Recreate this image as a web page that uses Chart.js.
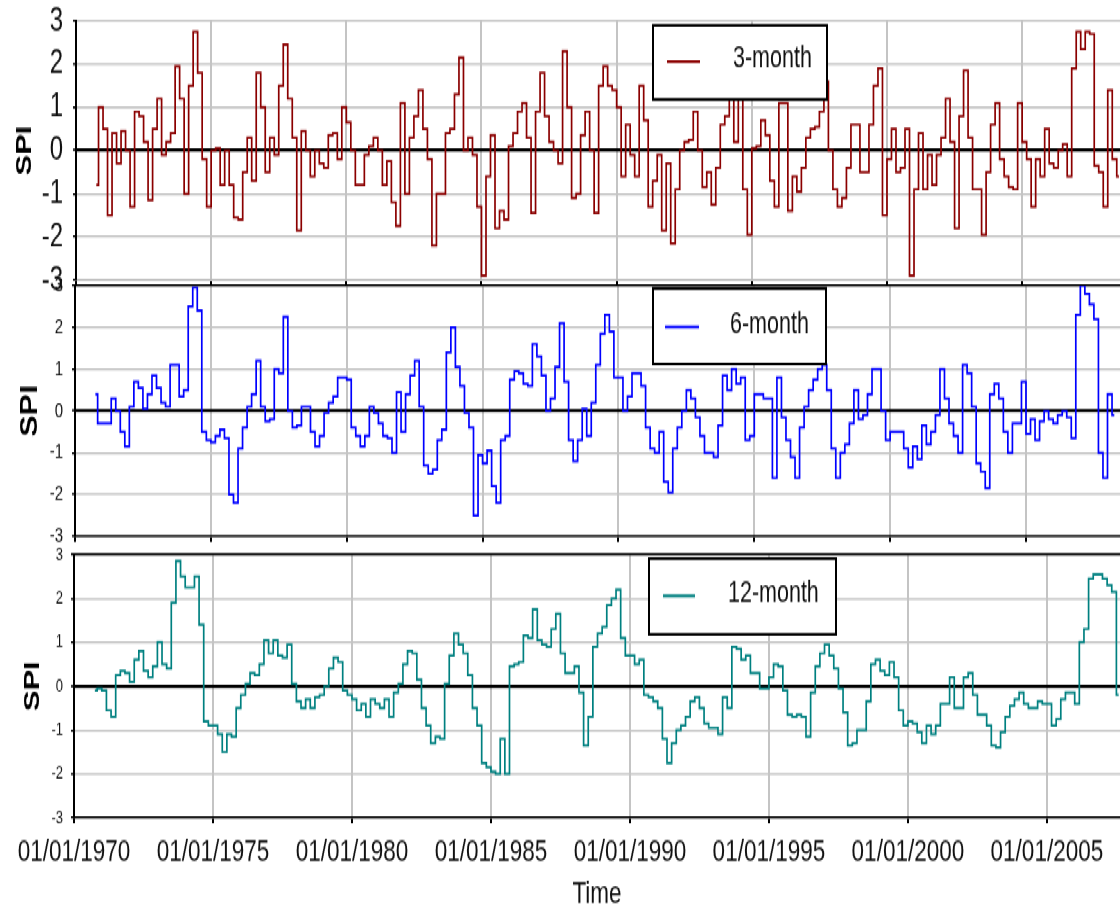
<!DOCTYPE html>
<html>
<head>
<meta charset="utf-8">
<title>SPI 3, 6 and 12 month</title>
<script src="https://cdn.jsdelivr.net/npm/chart.js@4.4.1/dist/chart.umd.min.js"></script>
<style>
  html, body { margin: 0; padding: 0; background: #fff; overflow: hidden; }
  /* the three panels are laid out on a 1120x652 stage that is stretched to 913px tall */
  #stage { position: absolute; left: 0; top: 0; width: 1120px; height: 652px;
           transform: scaleY(1.40031); transform-origin: 0 0; }
  #stage canvas { position: absolute; left: 0; }
</style>
</head>
<body>
<div id="stage">
  <canvas id="c3m" width="1120" height="210" style="top:0px"></canvas>
  <canvas id="c6m" width="1120" height="195" style="top:194px"></canvas>
  <canvas id="c12m" width="1120" height="267" style="top:385px"></canvas>
</div>
<script>
// Bimonthly SPI values, first value October 1970
const START_YEAR = 1970 + 9 / 12;
const STEP_YEARS = 2 / 12;

const spi3 = [
  -0.8, 1.0, 0.5, -1.5, 0.4, -0.3, 0.45, 0.0, -1.3, 0.9,
  0.8, 0.2, -1.15, 0.5, 1.2, -0.1, 0.2, 0.4, 1.95, 1.2,
  -1.0, 1.5, 2.75, 1.8, -0.2, -1.3, 0.0, 0.05, -0.8, 0.0,
  -0.8, -1.55, -1.6, -0.5, 0.3, -0.7, 1.8, 1.0, -0.5, 0.3,
  -0.1, 1.5, 2.45, 1.2, 0.3, -1.85, 0.45, 0.0, -0.6, 0.0,
  -0.3, -0.4, 0.35, 0.4, -0.2, 1.0, 0.65, 0.0, -0.8, -0.8,
  -0.1, 0.1, 0.3, 0.0, -0.8, -0.25, -1.2, -1.75, 1.1, -1.0,
  0.3, 0.8, 1.4, 0.5, -0.2, -2.2, -1.0, -1.0, 0.4, 0.5,
  1.3, 2.15, 0.0, 0.3, -0.1, -1.3, -2.9, -0.6, 0.35, -1.8,
  -1.4, -1.6, 0.1, 0.4, 0.9, 1.1, 0.3, -1.45, 0.9, 1.8,
  0.8, 0.2, 0.0, -0.3, 2.3, 1.0, -1.1, -1.0, 0.35, 0.9,
  0.0, -1.45, 1.5, 1.95, 1.5, 1.4, 1.0, -0.6, 0.6, -0.1,
  -0.6, 1.5, 0.7, -1.3, -0.7, -0.1, -1.85, -0.3, -2.15, -0.9,
  0.0, 0.2, 0.25, 0.9, 0.0, -0.85, -0.5, -1.25, -0.4, 0.6,
  0.8, 1.3, 0.2, 1.3, -0.9, -1.95, 0.05, 0.1, 0.7, 0.35,
  -0.7, -1.3, 1.1, 1.1, -1.4, -0.6, -0.95, -0.4, 0.3, 0.5,
  0.55, 0.9, 1.6, 0.0, -0.9, -1.3, -1.1, -0.4, 0.6, 0.6,
  -0.5, -0.5, 0.6, 1.5, 1.9, -1.5, -0.2, 0.5, -0.5, -0.4,
  0.5, -2.9, -0.9, 0.4, -0.9, -0.1, -0.8, -0.1, 0.3, 1.2,
  0.2, -1.8, 0.8, 1.85, 0.3, -0.9, -0.9, -1.95, -0.5, 0.6,
  1.1, -0.2, -0.6, -0.85, -0.9, 1.1, 0.2, -0.2, -1.3, -0.2,
  -0.6, 0.5, -0.3, -0.4, 0.0, 0.15, -0.6, 1.9, 2.75, 2.35,
  2.75, 2.7, -0.35, -0.5, -1.3, 1.4, -0.2, -0.6
];

const spi6 = [
  0.4, -0.3, -0.3, -0.3, 0.3, 0.0, -0.5, -0.85, 0.1, 0.7,
  0.55, 0.05, 0.4, 0.85, 0.55, 0.2, 0.1, 1.1, 1.1, 0.35,
  0.5, 2.5, 2.95, 2.4, -0.5, -0.7, -0.75, -0.6, -0.45, -0.65,
  -2.0, -2.2, -0.9, -0.4, 0.1, 0.4, 1.2, 0.1, -0.25, -0.2,
  1.0, 0.9, 2.25, 0.0, -0.4, -0.35, 0.1, 0.1, -0.5, -0.85,
  -0.6, -0.05, 0.2, 0.35, 0.8, 0.8, 0.75, -0.4, -0.6, -0.85,
  -0.6, 0.1, -0.05, -0.3, -0.6, -0.65, -1.0, 0.45, -0.5, 0.4,
  0.85, 1.2, 0.1, -1.3, -1.5, -1.4, -0.7, -0.45, 1.4,
  2.0, 1.05, 0.6, -0.05, -0.4, -2.5, -1.05, -1.25, -0.95, -1.8,
  -2.2, -0.7, -0.6, 0.75, 0.95, 0.9, 0.65, 0.6, 1.6, 1.3,
  0.85, 0.0, 0.3, 1.05, 2.1, 0.7, -0.7, -1.2, -0.7, 0.05,
  -0.6, 0.2, 1.1, 1.85, 2.3, 1.9, 0.8, 0.8, 0.0, 0.35,
  0.9, 0.9, 0.6, -0.4, -0.9, -1.0, -0.5, -1.7, -1.95, -0.9,
  -0.4, 0.0, 0.5, 0.3, -0.15, -0.6, -1.0, -1.0, -1.1, -0.35,
  0.85, 0.5, 1.0, 0.65, 0.8, -0.7, -0.6, 0.4, 0.4, 0.3,
  0.3, -1.6, 0.8, -0.15, -0.7, -1.1, -1.6, -0.4, 0.1, 0.5,
  0.75, 1.0, 1.1, 0.5, -0.9, -1.6, -1.0, -0.8, -0.3, 0.5,
  -0.2, -0.1, 0.4, 1.0, 1.0, 0.0, -0.7, -0.5, -0.5, -0.5,
  -0.9, -1.35, -0.85, -1.15, -0.35, -0.8, -0.5, -0.1, 1.0, 0.3,
  -0.3, -0.6, -1.0, 1.1, 0.9, 0.1, -1.25, -1.45, -1.85, 0.4,
  0.65, 0.3, -0.5, -1.0, -0.3, -0.3, 0.7, -0.55, -0.2, -0.7,
  -0.25, 0.0, -0.2, -0.3, -0.1, 0.0, -0.15, -0.65, 2.3, 3.0,
  2.8, 2.55, 2.2, -1.0, -1.6, 0.4, -0.1
];

const spi12 = [
  -0.1, -0.05, -0.1, -0.55, -0.7, 0.25, 0.35, 0.3, 0.1, 0.6,
  0.8, 0.35, 0.2, 0.45, 1.0, 0.5, 0.4, 1.9, 2.85, 2.5,
  2.25, 2.25, 2.5, 1.4, -0.8, -0.9, -0.9, -1.1, -1.5, -1.1,
  -1.15, -0.5, -0.2, 0.05, 0.3, 0.25, 0.5, 1.05, 0.75, 1.05,
  0.7, 0.65, 0.95, 0.05, -0.35, -0.5, -0.3, -0.5, -0.25, -0.2,
  0.0, 0.4, 0.65, 0.55, -0.1, -0.2, -0.3, -0.55, -0.4, -0.7,
  -0.3, -0.4, -0.5, -0.3, -0.7, -0.15, 0.05, 0.5, 0.8, 0.75,
  0.15, -0.5, -0.9, -1.3, -1.15, -1.2, 0.05, 0.7, 1.2, 0.95,
  0.75, 0.25, -0.5, -0.9, -1.75, -1.85, -1.95, -2.0, -1.2, -2.0,
  0.45, 0.5, 0.55, 1.15, 1.1, 1.75, 1.05, 0.95, 0.9, 1.3,
  1.65, 0.75, 0.3, 0.3, 0.45, -0.15, -1.35, -0.7, 0.9, 1.2,
  1.35, 1.85, 2.0, 2.2, 1.1, 0.7, 0.7, 0.5, 0.6, -0.2,
  -0.25, -0.35, -0.5, -1.2, -1.75, -1.3, -1.0, -0.9, -0.7, -0.35,
  -0.25, -0.5, -0.85, -0.95, -0.95, -1.1, -0.25, -0.5, 0.9, 0.85,
  0.6, 0.7, 0.3, 0.3, -0.05, -0.05, 0.2, 0.5, 0.45, -0.1,
  -0.65, -0.7, -0.65, -0.7, -1.15, -0.15, 0.45, 0.75, 0.95, 0.7,
  0.4, -0.05, -0.6, -1.35, -1.3, -1.0, -1.0, -0.35, 0.5, 0.6,
  0.35, 0.25, 0.55, 0.2, -0.55, -0.9, -0.8, -0.85, -1.05, -1.3,
  -0.9, -1.1, -0.9, -0.4, -0.4, 0.2, -0.5, -0.5, 0.2, 0.3,
  -0.2, -0.65, -0.65, -0.9, -1.35, -1.4, -1.05, -0.7, -0.45, -0.3,
  -0.15, -0.4, -0.5, -0.5, -0.35, -0.4, -0.4, -0.9, -0.75, -0.3,
  -0.15, -0.15, -0.4, 1.0, 1.3, 2.45, 2.55, 2.55, 2.45, 2.3,
  2.15, -0.2
];

const seriesNames = ['3-month', '6-month', '12-month'];
const tickYears = [1970, 1975, 1980, 1985, 1990, 1995, 2000, 2005];
const tickLabels = ['01/01/1970', '01/01/1975', '01/01/1980', '01/01/1985',
                    '01/01/1990', '01/01/1995', '01/01/2000', '01/01/2005'];
const spiTicks = [-3, -2, -1, 0, 1, 2, 3];

const FONT = "'Liberation Sans', Arial, sans-serif";
Chart.defaults.font.family = FONT;

function seriesPoints(values) {
  return values.map((v, i) => ({ x: START_YEAR + i * STEP_YEARS, y: v }));
}

// Boxed legend: white box with black frame, sample line and series name
const boxLegend = {
  id: 'boxLegend',
  afterDraw(chart, args, o) {
    const ctx = chart.ctx;
    const ds = chart.data.datasets[0];
    ctx.save();
    ctx.fillStyle = '#fff';
    ctx.fillRect(o.x, o.y, o.w, o.h);
    ctx.lineWidth = 2;
    ctx.strokeStyle = '#000';
    ctx.strokeRect(o.x, o.y, o.w, o.h);
    ctx.beginPath();
    ctx.moveTo(o.lineX0, o.lineY);
    ctx.lineTo(o.lineX1, o.lineY);
    ctx.strokeStyle = ds.borderColor;
    ctx.lineWidth = 2;
    ctx.stroke();
    ctx.font = '21.5px ' + FONT;
    ctx.fillStyle = '#111';
    ctx.textAlign = 'left';
    ctx.textBaseline = 'middle';
    ctx.fillText(ds.label, o.textX, o.textY);
    ctx.restore();
  }
};

const panels = [
  {
    canvas: 'c3m', values: spi3, name: seriesNames[0], color: '#8b0000',
    left: 76, padTop: 15, xAxisH: 10, xMax: 2008.62,
    bottomBorder: '#bdbdbd', topBorder: false, dates: false,
    yTickSize: 24, yTickPad: 10, titleSize: 22, titlePad: 12,
    legend: { x: 653, y: 18, w: 174, h: 53, lineX0: 667, lineX1: 700, lineY: 44, textX: 733, textY: 42.5 }
  },
  {
    canvas: 'c6m', values: spi6, name: seriesNames[1], color: '#0000ff',
    left: 75, padTop: 10, xAxisH: 6, xMax: 2008.46,
    bottomBorder: '#000', topBorder: true, dates: false,
    yTickSize: 15, yTickPad: 9, titleSize: 23, titlePad: 17,
    legend: { x: 653, y: 12, w: 173, h: 54, lineX0: 665, lineX1: 699, lineY: 39.5, textX: 730, textY: 38 }
  },
  {
    canvas: 'c12m', values: spi12, name: seriesNames[2], color: '#008080',
    left: 74, padTop: 11, xAxisH: 68, xMax: 2007.63,
    bottomBorder: '#000', topBorder: true, dates: true,
    yTickSize: 13, yTickPad: 8, titleSize: 22, titlePad: 20,
    legend: { x: 649, y: 14, w: 187, h: 54, lineX0: 663, lineX1: 695, lineY: 40.5, textX: 728, textY: 39 }
  }
];

function buildPanel(p) {
  const scales = {
    x: {
      type: 'linear',
      position: 'bottom',
      min: 1970,
      max: p.xMax,
      afterBuildTicks: s => { s.ticks = tickYears.map(v => ({ value: v })); },
      afterFit: s => { s.height = p.xAxisH; s.paddingLeft = 0; s.paddingRight = 0; },
      grid: { color: '#c4c4c4', lineWidth: 2, drawTicks: true, tickLength: 4, tickColor: '#000', tickWidth: 2 },
      border: { display: true, color: p.bottomBorder, width: 1.6 },
      ticks: p.dates ? {
        display: true, autoSkip: false, maxRotation: 0, minRotation: 0,
        padding: 7, color: '#111', font: { size: 22.5 },
        callback: (v, i) => tickLabels[i]
      } : { display: false },
      title: p.dates ? {
        display: true, text: 'Time', color: '#111',
        font: { size: 22.5 }, padding: { top: 0, bottom: 0 }
      } : { display: false }
    },
    y: {
      type: 'linear',
      position: 'left',
      min: -3,
      max: 3,
      afterBuildTicks: s => { s.ticks = spiTicks.map(v => ({ value: v })); },
      afterFit: s => { s.width = p.left; s.paddingTop = 0; s.paddingBottom = 0; },
      grid: {
        color: c => (c.tick && c.tick.value === 0) ? '#000' : '#c4c4c4',
        lineWidth: c => (c.tick && c.tick.value === 0) ? 2.2 : 1.5,
        drawTicks: true, tickLength: 3, tickColor: '#000', tickWidth: 1.5
      },
      border: { display: true, color: '#000', width: 2 },
      ticks: { color: '#111', padding: p.yTickPad, autoSkip: false, font: { size: p.yTickSize } },
      title: {
        display: true, text: 'SPI', color: '#000',
        font: { size: p.titleSize, weight: 'bold' },
        padding: { top: p.titlePad, bottom: 0 }
      }
    }
  };
  if (p.topBorder) {
    scales.xTop = {
      type: 'linear', axis: 'x', position: 'top', min: 0, max: 1,
      afterFit: s => { s.height = 0; s.paddingLeft = 0; s.paddingRight = 0; },
      grid: { display: true, drawOnChartArea: false, drawTicks: false },
      ticks: { display: false },
      border: { display: true, color: '#000', width: 1.6 }
    };
  }

  return new Chart(document.getElementById(p.canvas), {
    type: 'line',
    data: {
      datasets: [{
        label: p.name,
        data: seriesPoints(p.values),
        borderColor: p.color,
        borderWidth: 1.7,
        pointRadius: 0,
        stepped: 'middle',
        fill: false,
        tension: 0
      }]
    },
    options: {
      responsive: false,
      animation: false,
      devicePixelRatio: 1,
      parsing: false,
      layout: { padding: { top: p.padTop, left: 0, right: 0, bottom: 0 } },
      plugins: {
        legend: { display: false },
        tooltip: { enabled: false },
        boxLegend: p.legend
      },
      scales
    },
    plugins: [boxLegend]
  });
}

panels.forEach(buildPanel);
</script>
</body>
</html>
